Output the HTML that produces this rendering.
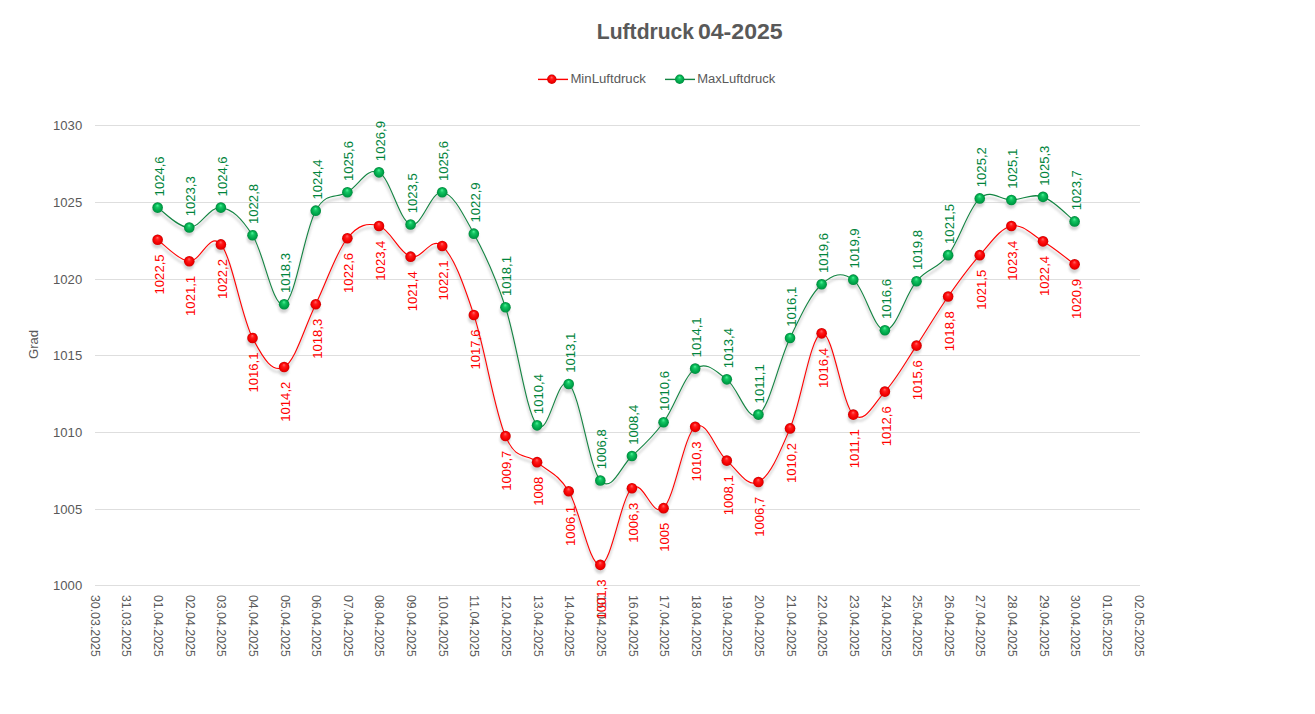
<!DOCTYPE html><html><head><meta charset="utf-8"><title>Luftdruck 04-2025</title><style>html,body{margin:0;padding:0;background:#fff;}svg{display:block;}text{font-family:"Liberation Sans",sans-serif;}</style></head><body>
<svg width="1315" height="714" viewBox="0 0 1315 714">
<defs>
<radialGradient id="gG" cx="0.5" cy="0.55" r="0.55" fx="0.48" fy="0.27">
<stop offset="0" stop-color="#4ff59a"/><stop offset="0.3" stop-color="#14c462"/><stop offset="0.65" stop-color="#00a64b"/><stop offset="0.88" stop-color="#008f3f"/><stop offset="1" stop-color="#00702f"/></radialGradient>
<radialGradient id="gR" cx="0.5" cy="0.55" r="0.55" fx="0.48" fy="0.27">
<stop offset="0" stop-color="#ff6a6a"/><stop offset="0.3" stop-color="#ff1a1a"/><stop offset="0.65" stop-color="#f40000"/><stop offset="0.88" stop-color="#d40000"/><stop offset="1" stop-color="#a00000"/></radialGradient>
<filter id="sh" x="-20%" y="-20%" width="140%" height="140%"><feGaussianBlur stdDeviation="1.3"/></filter>
</defs>
<rect width="1315" height="714" fill="#fff"/>
<rect x="95" y="125" width="1045" height="1" fill="#dedede"/>
<rect x="95" y="202" width="1045" height="1" fill="#dedede"/>
<rect x="95" y="279" width="1045" height="1" fill="#dedede"/>
<rect x="95" y="355" width="1045" height="1" fill="#dedede"/>
<rect x="95" y="432" width="1045" height="1" fill="#dedede"/>
<rect x="95" y="509" width="1045" height="1" fill="#dedede"/>
<rect x="95" y="585" width="1045" height="1" fill="#dedede"/>
<text x="82.2" y="130.20" font-size="13.10" fill="#595959" text-anchor="end">1030</text>
<text x="82.2" y="206.87" font-size="13.10" fill="#595959" text-anchor="end">1025</text>
<text x="82.2" y="283.53" font-size="13.10" fill="#595959" text-anchor="end">1020</text>
<text x="82.2" y="360.20" font-size="13.10" fill="#595959" text-anchor="end">1015</text>
<text x="82.2" y="436.87" font-size="13.10" fill="#595959" text-anchor="end">1010</text>
<text x="82.2" y="513.53" font-size="13.10" fill="#595959" text-anchor="end">1005</text>
<text x="82.2" y="590.20" font-size="13.10" fill="#595959" text-anchor="end">1000</text>
<text transform="translate(38.3,344.5) rotate(-90)" font-size="13.10" fill="#595959" text-anchor="middle">Grad</text>
<text transform="translate(90.80,594.9) rotate(90)" font-size="13.10" fill="#595959" textLength="62.0" lengthAdjust="spacingAndGlyphs">30.03.2025</text>
<text transform="translate(122.43,594.9) rotate(90)" font-size="13.10" fill="#595959" textLength="62.0" lengthAdjust="spacingAndGlyphs">31.03.2025</text>
<text transform="translate(154.06,594.9) rotate(90)" font-size="13.10" fill="#595959" textLength="62.0" lengthAdjust="spacingAndGlyphs">01.04.2025</text>
<text transform="translate(185.69,594.9) rotate(90)" font-size="13.10" fill="#595959" textLength="62.0" lengthAdjust="spacingAndGlyphs">02.04.2025</text>
<text transform="translate(217.32,594.9) rotate(90)" font-size="13.10" fill="#595959" textLength="62.0" lengthAdjust="spacingAndGlyphs">03.04.2025</text>
<text transform="translate(248.95,594.9) rotate(90)" font-size="13.10" fill="#595959" textLength="62.0" lengthAdjust="spacingAndGlyphs">04.04.2025</text>
<text transform="translate(280.58,594.9) rotate(90)" font-size="13.10" fill="#595959" textLength="62.0" lengthAdjust="spacingAndGlyphs">05.04.2025</text>
<text transform="translate(312.21,594.9) rotate(90)" font-size="13.10" fill="#595959" textLength="62.0" lengthAdjust="spacingAndGlyphs">06.04.2025</text>
<text transform="translate(343.84,594.9) rotate(90)" font-size="13.10" fill="#595959" textLength="62.0" lengthAdjust="spacingAndGlyphs">07.04.2025</text>
<text transform="translate(375.47,594.9) rotate(90)" font-size="13.10" fill="#595959" textLength="62.0" lengthAdjust="spacingAndGlyphs">08.04.2025</text>
<text transform="translate(407.10,594.9) rotate(90)" font-size="13.10" fill="#595959" textLength="62.0" lengthAdjust="spacingAndGlyphs">09.04.2025</text>
<text transform="translate(438.73,594.9) rotate(90)" font-size="13.10" fill="#595959" textLength="62.0" lengthAdjust="spacingAndGlyphs">10.04.2025</text>
<text transform="translate(470.36,594.9) rotate(90)" font-size="13.10" fill="#595959" textLength="62.0" lengthAdjust="spacingAndGlyphs">11.04.2025</text>
<text transform="translate(501.99,594.9) rotate(90)" font-size="13.10" fill="#595959" textLength="62.0" lengthAdjust="spacingAndGlyphs">12.04.2025</text>
<text transform="translate(533.62,594.9) rotate(90)" font-size="13.10" fill="#595959" textLength="62.0" lengthAdjust="spacingAndGlyphs">13.04.2025</text>
<text transform="translate(565.25,594.9) rotate(90)" font-size="13.10" fill="#595959" textLength="62.0" lengthAdjust="spacingAndGlyphs">14.04.2025</text>
<text transform="translate(596.88,594.9) rotate(90)" font-size="13.10" fill="#595959" textLength="62.0" lengthAdjust="spacingAndGlyphs">15.04.2025</text>
<text transform="translate(628.51,594.9) rotate(90)" font-size="13.10" fill="#595959" textLength="62.0" lengthAdjust="spacingAndGlyphs">16.04.2025</text>
<text transform="translate(660.14,594.9) rotate(90)" font-size="13.10" fill="#595959" textLength="62.0" lengthAdjust="spacingAndGlyphs">17.04.2025</text>
<text transform="translate(691.77,594.9) rotate(90)" font-size="13.10" fill="#595959" textLength="62.0" lengthAdjust="spacingAndGlyphs">18.04.2025</text>
<text transform="translate(723.40,594.9) rotate(90)" font-size="13.10" fill="#595959" textLength="62.0" lengthAdjust="spacingAndGlyphs">19.04.2025</text>
<text transform="translate(755.03,594.9) rotate(90)" font-size="13.10" fill="#595959" textLength="62.0" lengthAdjust="spacingAndGlyphs">20.04.2025</text>
<text transform="translate(786.66,594.9) rotate(90)" font-size="13.10" fill="#595959" textLength="62.0" lengthAdjust="spacingAndGlyphs">21.04.2025</text>
<text transform="translate(818.29,594.9) rotate(90)" font-size="13.10" fill="#595959" textLength="62.0" lengthAdjust="spacingAndGlyphs">22.04.2025</text>
<text transform="translate(849.92,594.9) rotate(90)" font-size="13.10" fill="#595959" textLength="62.0" lengthAdjust="spacingAndGlyphs">23.04.2025</text>
<text transform="translate(881.55,594.9) rotate(90)" font-size="13.10" fill="#595959" textLength="62.0" lengthAdjust="spacingAndGlyphs">24.04.2025</text>
<text transform="translate(913.18,594.9) rotate(90)" font-size="13.10" fill="#595959" textLength="62.0" lengthAdjust="spacingAndGlyphs">25.04.2025</text>
<text transform="translate(944.81,594.9) rotate(90)" font-size="13.10" fill="#595959" textLength="62.0" lengthAdjust="spacingAndGlyphs">26.04.2025</text>
<text transform="translate(976.44,594.9) rotate(90)" font-size="13.10" fill="#595959" textLength="62.0" lengthAdjust="spacingAndGlyphs">27.04.2025</text>
<text transform="translate(1008.07,594.9) rotate(90)" font-size="13.10" fill="#595959" textLength="62.0" lengthAdjust="spacingAndGlyphs">28.04.2025</text>
<text transform="translate(1039.70,594.9) rotate(90)" font-size="13.10" fill="#595959" textLength="62.0" lengthAdjust="spacingAndGlyphs">29.04.2025</text>
<text transform="translate(1071.33,594.9) rotate(90)" font-size="13.10" fill="#595959" textLength="62.0" lengthAdjust="spacingAndGlyphs">30.04.2025</text>
<text transform="translate(1102.96,594.9) rotate(90)" font-size="13.10" fill="#595959" textLength="62.0" lengthAdjust="spacingAndGlyphs">01.05.2025</text>
<text transform="translate(1134.59,594.9) rotate(90)" font-size="13.10" fill="#595959" textLength="62.0" lengthAdjust="spacingAndGlyphs">02.05.2025</text>
<g filter="url(#sh)" opacity="0.6">
<path d="M157.64,239.80 C163.33,243.66 177.88,260.44 189.26,261.27 C200.64,262.10 209.50,230.60 220.88,244.40 C232.26,258.20 241.12,315.85 252.50,337.93 C263.88,360.01 272.74,373.14 284.12,367.07 C295.50,361.00 304.36,327.38 315.74,304.20 C327.12,281.02 335.98,252.34 347.36,238.27 C358.74,224.19 367.60,222.69 378.98,226.00 C390.36,229.31 399.22,253.08 410.60,256.67 C421.98,260.26 430.84,235.45 442.22,245.93 C453.60,256.42 462.46,280.71 473.84,314.93 C485.22,349.16 494.08,409.57 505.46,436.07 C516.84,462.56 525.70,452.20 537.08,462.13 C548.46,472.07 557.32,472.77 568.70,491.27 C580.08,509.76 588.94,565.42 600.32,564.87 C611.70,564.31 620.56,498.41 631.94,488.20 C643.32,477.99 652.18,519.17 663.56,508.13 C674.94,497.09 683.80,435.42 695.18,426.87 C706.56,418.31 715.42,450.66 726.80,460.60 C738.18,470.54 747.04,487.86 758.42,482.07 C769.80,476.27 778.66,455.17 790.04,428.40 C801.42,401.63 810.28,335.82 821.66,333.33 C833.04,330.85 841.90,404.11 853.28,414.60 C864.66,425.09 873.52,404.02 884.90,391.60 C896.28,379.18 905.14,362.71 916.52,345.60 C927.90,328.49 936.76,312.82 948.14,296.53 C959.52,280.25 968.38,267.83 979.76,255.13 C991.14,242.44 1000.00,228.48 1011.38,226.00 C1022.76,223.52 1031.62,234.43 1043.00,241.33 C1054.38,248.23 1068.93,260.19 1074.62,264.33" transform="translate(0,3.5)" fill="none" stroke="#c8c8c8" stroke-width="2.5"/>
<circle cx="157.14" cy="243.30" r="5.3" fill="#b8b8b8"/>
<circle cx="188.76" cy="264.77" r="5.3" fill="#b8b8b8"/>
<circle cx="220.38" cy="247.90" r="5.3" fill="#b8b8b8"/>
<circle cx="252.00" cy="341.43" r="5.3" fill="#b8b8b8"/>
<circle cx="283.62" cy="370.57" r="5.3" fill="#b8b8b8"/>
<circle cx="315.24" cy="307.70" r="5.3" fill="#b8b8b8"/>
<circle cx="346.86" cy="241.77" r="5.3" fill="#b8b8b8"/>
<circle cx="378.48" cy="229.50" r="5.3" fill="#b8b8b8"/>
<circle cx="410.10" cy="260.17" r="5.3" fill="#b8b8b8"/>
<circle cx="441.72" cy="249.43" r="5.3" fill="#b8b8b8"/>
<circle cx="473.34" cy="318.43" r="5.3" fill="#b8b8b8"/>
<circle cx="504.96" cy="439.57" r="5.3" fill="#b8b8b8"/>
<circle cx="536.58" cy="465.63" r="5.3" fill="#b8b8b8"/>
<circle cx="568.20" cy="494.77" r="5.3" fill="#b8b8b8"/>
<circle cx="599.82" cy="568.37" r="5.3" fill="#b8b8b8"/>
<circle cx="631.44" cy="491.70" r="5.3" fill="#b8b8b8"/>
<circle cx="663.06" cy="511.63" r="5.3" fill="#b8b8b8"/>
<circle cx="694.68" cy="430.37" r="5.3" fill="#b8b8b8"/>
<circle cx="726.30" cy="464.10" r="5.3" fill="#b8b8b8"/>
<circle cx="757.92" cy="485.57" r="5.3" fill="#b8b8b8"/>
<circle cx="789.54" cy="431.90" r="5.3" fill="#b8b8b8"/>
<circle cx="821.16" cy="336.83" r="5.3" fill="#b8b8b8"/>
<circle cx="852.78" cy="418.10" r="5.3" fill="#b8b8b8"/>
<circle cx="884.40" cy="395.10" r="5.3" fill="#b8b8b8"/>
<circle cx="916.02" cy="349.10" r="5.3" fill="#b8b8b8"/>
<circle cx="947.64" cy="300.03" r="5.3" fill="#b8b8b8"/>
<circle cx="979.26" cy="258.63" r="5.3" fill="#b8b8b8"/>
<circle cx="1010.88" cy="229.50" r="5.3" fill="#b8b8b8"/>
<circle cx="1042.50" cy="244.83" r="5.3" fill="#b8b8b8"/>
<circle cx="1074.12" cy="267.83" r="5.3" fill="#b8b8b8"/>
<path d="M157.64,207.60 C163.33,211.19 177.88,227.53 189.26,227.53 C200.64,227.53 209.50,206.22 220.88,207.60 C232.26,208.98 241.12,217.81 252.50,235.20 C263.88,252.59 272.74,308.62 284.12,304.20 C295.50,299.78 304.36,230.82 315.74,210.67 C327.12,190.52 335.98,199.17 347.36,192.27 C358.74,185.37 367.60,166.54 378.98,172.33 C390.36,178.13 399.22,220.88 410.60,224.47 C421.98,228.06 430.84,190.61 442.22,192.27 C453.60,193.92 462.46,212.97 473.84,233.67 C485.22,254.37 494.08,272.77 505.46,307.27 C516.84,341.77 525.70,411.53 537.08,425.33 C548.46,439.13 557.32,374.00 568.70,383.93 C580.08,393.87 588.94,467.56 600.32,480.53 C611.70,493.51 620.56,466.49 631.94,456.00 C643.32,445.51 652.18,438.00 663.56,422.27 C674.94,406.54 683.80,376.33 695.18,368.60 C706.56,360.87 715.42,371.05 726.80,379.33 C738.18,387.61 747.04,422.05 758.42,414.60 C769.80,407.15 778.66,361.39 790.04,337.93 C801.42,314.47 810.28,294.76 821.66,284.27 C833.04,273.78 841.90,271.39 853.28,279.67 C864.66,287.95 873.52,329.99 884.90,330.27 C896.28,330.54 905.14,294.72 916.52,281.20 C927.90,267.68 936.76,270.04 948.14,255.13 C959.52,240.23 968.38,208.34 979.76,198.40 C991.14,188.46 1000.00,200.21 1011.38,199.93 C1022.76,199.66 1031.62,193.00 1043.00,196.87 C1054.38,200.73 1068.93,216.98 1074.62,221.40" transform="translate(0,3.5)" fill="none" stroke="#c8c8c8" stroke-width="2.5"/>
<circle cx="157.14" cy="211.10" r="5.3" fill="#b8b8b8"/>
<circle cx="188.76" cy="231.03" r="5.3" fill="#b8b8b8"/>
<circle cx="220.38" cy="211.10" r="5.3" fill="#b8b8b8"/>
<circle cx="252.00" cy="238.70" r="5.3" fill="#b8b8b8"/>
<circle cx="283.62" cy="307.70" r="5.3" fill="#b8b8b8"/>
<circle cx="315.24" cy="214.17" r="5.3" fill="#b8b8b8"/>
<circle cx="346.86" cy="195.77" r="5.3" fill="#b8b8b8"/>
<circle cx="378.48" cy="175.83" r="5.3" fill="#b8b8b8"/>
<circle cx="410.10" cy="227.97" r="5.3" fill="#b8b8b8"/>
<circle cx="441.72" cy="195.77" r="5.3" fill="#b8b8b8"/>
<circle cx="473.34" cy="237.17" r="5.3" fill="#b8b8b8"/>
<circle cx="504.96" cy="310.77" r="5.3" fill="#b8b8b8"/>
<circle cx="536.58" cy="428.83" r="5.3" fill="#b8b8b8"/>
<circle cx="568.20" cy="387.43" r="5.3" fill="#b8b8b8"/>
<circle cx="599.82" cy="484.03" r="5.3" fill="#b8b8b8"/>
<circle cx="631.44" cy="459.50" r="5.3" fill="#b8b8b8"/>
<circle cx="663.06" cy="425.77" r="5.3" fill="#b8b8b8"/>
<circle cx="694.68" cy="372.10" r="5.3" fill="#b8b8b8"/>
<circle cx="726.30" cy="382.83" r="5.3" fill="#b8b8b8"/>
<circle cx="757.92" cy="418.10" r="5.3" fill="#b8b8b8"/>
<circle cx="789.54" cy="341.43" r="5.3" fill="#b8b8b8"/>
<circle cx="821.16" cy="287.77" r="5.3" fill="#b8b8b8"/>
<circle cx="852.78" cy="283.17" r="5.3" fill="#b8b8b8"/>
<circle cx="884.40" cy="333.77" r="5.3" fill="#b8b8b8"/>
<circle cx="916.02" cy="284.70" r="5.3" fill="#b8b8b8"/>
<circle cx="947.64" cy="258.63" r="5.3" fill="#b8b8b8"/>
<circle cx="979.26" cy="201.90" r="5.3" fill="#b8b8b8"/>
<circle cx="1010.88" cy="203.43" r="5.3" fill="#b8b8b8"/>
<circle cx="1042.50" cy="200.37" r="5.3" fill="#b8b8b8"/>
<circle cx="1074.12" cy="224.90" r="5.3" fill="#b8b8b8"/>
</g>
<path d="M157.64,239.80 C163.33,243.66 177.88,260.44 189.26,261.27 C200.64,262.10 209.50,230.60 220.88,244.40 C232.26,258.20 241.12,315.85 252.50,337.93 C263.88,360.01 272.74,373.14 284.12,367.07 C295.50,361.00 304.36,327.38 315.74,304.20 C327.12,281.02 335.98,252.34 347.36,238.27 C358.74,224.19 367.60,222.69 378.98,226.00 C390.36,229.31 399.22,253.08 410.60,256.67 C421.98,260.26 430.84,235.45 442.22,245.93 C453.60,256.42 462.46,280.71 473.84,314.93 C485.22,349.16 494.08,409.57 505.46,436.07 C516.84,462.56 525.70,452.20 537.08,462.13 C548.46,472.07 557.32,472.77 568.70,491.27 C580.08,509.76 588.94,565.42 600.32,564.87 C611.70,564.31 620.56,498.41 631.94,488.20 C643.32,477.99 652.18,519.17 663.56,508.13 C674.94,497.09 683.80,435.42 695.18,426.87 C706.56,418.31 715.42,450.66 726.80,460.60 C738.18,470.54 747.04,487.86 758.42,482.07 C769.80,476.27 778.66,455.17 790.04,428.40 C801.42,401.63 810.28,335.82 821.66,333.33 C833.04,330.85 841.90,404.11 853.28,414.60 C864.66,425.09 873.52,404.02 884.90,391.60 C896.28,379.18 905.14,362.71 916.52,345.60 C927.90,328.49 936.76,312.82 948.14,296.53 C959.52,280.25 968.38,267.83 979.76,255.13 C991.14,242.44 1000.00,228.48 1011.38,226.00 C1022.76,223.52 1031.62,234.43 1043.00,241.33 C1054.38,248.23 1068.93,260.19 1074.62,264.33" fill="none" stroke="#ff0000" stroke-width="1.1"/>
<circle cx="157.64" cy="239.80" r="5.3" fill="url(#gR)"/>
<circle cx="189.26" cy="261.27" r="5.3" fill="url(#gR)"/>
<circle cx="220.88" cy="244.40" r="5.3" fill="url(#gR)"/>
<circle cx="252.50" cy="337.93" r="5.3" fill="url(#gR)"/>
<circle cx="284.12" cy="367.07" r="5.3" fill="url(#gR)"/>
<circle cx="315.74" cy="304.20" r="5.3" fill="url(#gR)"/>
<circle cx="347.36" cy="238.27" r="5.3" fill="url(#gR)"/>
<circle cx="378.98" cy="226.00" r="5.3" fill="url(#gR)"/>
<circle cx="410.60" cy="256.67" r="5.3" fill="url(#gR)"/>
<circle cx="442.22" cy="245.93" r="5.3" fill="url(#gR)"/>
<circle cx="473.84" cy="314.93" r="5.3" fill="url(#gR)"/>
<circle cx="505.46" cy="436.07" r="5.3" fill="url(#gR)"/>
<circle cx="537.08" cy="462.13" r="5.3" fill="url(#gR)"/>
<circle cx="568.70" cy="491.27" r="5.3" fill="url(#gR)"/>
<circle cx="600.32" cy="564.87" r="5.3" fill="url(#gR)"/>
<circle cx="631.94" cy="488.20" r="5.3" fill="url(#gR)"/>
<circle cx="663.56" cy="508.13" r="5.3" fill="url(#gR)"/>
<circle cx="695.18" cy="426.87" r="5.3" fill="url(#gR)"/>
<circle cx="726.80" cy="460.60" r="5.3" fill="url(#gR)"/>
<circle cx="758.42" cy="482.07" r="5.3" fill="url(#gR)"/>
<circle cx="790.04" cy="428.40" r="5.3" fill="url(#gR)"/>
<circle cx="821.66" cy="333.33" r="5.3" fill="url(#gR)"/>
<circle cx="853.28" cy="414.60" r="5.3" fill="url(#gR)"/>
<circle cx="884.90" cy="391.60" r="5.3" fill="url(#gR)"/>
<circle cx="916.52" cy="345.60" r="5.3" fill="url(#gR)"/>
<circle cx="948.14" cy="296.53" r="5.3" fill="url(#gR)"/>
<circle cx="979.76" cy="255.13" r="5.3" fill="url(#gR)"/>
<circle cx="1011.38" cy="226.00" r="5.3" fill="url(#gR)"/>
<circle cx="1043.00" cy="241.33" r="5.3" fill="url(#gR)"/>
<circle cx="1074.62" cy="264.33" r="5.3" fill="url(#gR)"/>
<path d="M157.64,207.60 C163.33,211.19 177.88,227.53 189.26,227.53 C200.64,227.53 209.50,206.22 220.88,207.60 C232.26,208.98 241.12,217.81 252.50,235.20 C263.88,252.59 272.74,308.62 284.12,304.20 C295.50,299.78 304.36,230.82 315.74,210.67 C327.12,190.52 335.98,199.17 347.36,192.27 C358.74,185.37 367.60,166.54 378.98,172.33 C390.36,178.13 399.22,220.88 410.60,224.47 C421.98,228.06 430.84,190.61 442.22,192.27 C453.60,193.92 462.46,212.97 473.84,233.67 C485.22,254.37 494.08,272.77 505.46,307.27 C516.84,341.77 525.70,411.53 537.08,425.33 C548.46,439.13 557.32,374.00 568.70,383.93 C580.08,393.87 588.94,467.56 600.32,480.53 C611.70,493.51 620.56,466.49 631.94,456.00 C643.32,445.51 652.18,438.00 663.56,422.27 C674.94,406.54 683.80,376.33 695.18,368.60 C706.56,360.87 715.42,371.05 726.80,379.33 C738.18,387.61 747.04,422.05 758.42,414.60 C769.80,407.15 778.66,361.39 790.04,337.93 C801.42,314.47 810.28,294.76 821.66,284.27 C833.04,273.78 841.90,271.39 853.28,279.67 C864.66,287.95 873.52,329.99 884.90,330.27 C896.28,330.54 905.14,294.72 916.52,281.20 C927.90,267.68 936.76,270.04 948.14,255.13 C959.52,240.23 968.38,208.34 979.76,198.40 C991.14,188.46 1000.00,200.21 1011.38,199.93 C1022.76,199.66 1031.62,193.00 1043.00,196.87 C1054.38,200.73 1068.93,216.98 1074.62,221.40" fill="none" stroke="#138442" stroke-width="1.1"/>
<circle cx="157.64" cy="207.60" r="5.3" fill="url(#gG)"/>
<circle cx="189.26" cy="227.53" r="5.3" fill="url(#gG)"/>
<circle cx="220.88" cy="207.60" r="5.3" fill="url(#gG)"/>
<circle cx="252.50" cy="235.20" r="5.3" fill="url(#gG)"/>
<circle cx="284.12" cy="304.20" r="5.3" fill="url(#gG)"/>
<circle cx="315.74" cy="210.67" r="5.3" fill="url(#gG)"/>
<circle cx="347.36" cy="192.27" r="5.3" fill="url(#gG)"/>
<circle cx="378.98" cy="172.33" r="5.3" fill="url(#gG)"/>
<circle cx="410.60" cy="224.47" r="5.3" fill="url(#gG)"/>
<circle cx="442.22" cy="192.27" r="5.3" fill="url(#gG)"/>
<circle cx="473.84" cy="233.67" r="5.3" fill="url(#gG)"/>
<circle cx="505.46" cy="307.27" r="5.3" fill="url(#gG)"/>
<circle cx="537.08" cy="425.33" r="5.3" fill="url(#gG)"/>
<circle cx="568.70" cy="383.93" r="5.3" fill="url(#gG)"/>
<circle cx="600.32" cy="480.53" r="5.3" fill="url(#gG)"/>
<circle cx="631.94" cy="456.00" r="5.3" fill="url(#gG)"/>
<circle cx="663.56" cy="422.27" r="5.3" fill="url(#gG)"/>
<circle cx="695.18" cy="368.60" r="5.3" fill="url(#gG)"/>
<circle cx="726.80" cy="379.33" r="5.3" fill="url(#gG)"/>
<circle cx="758.42" cy="414.60" r="5.3" fill="url(#gG)"/>
<circle cx="790.04" cy="337.93" r="5.3" fill="url(#gG)"/>
<circle cx="821.66" cy="284.27" r="5.3" fill="url(#gG)"/>
<circle cx="853.28" cy="279.67" r="5.3" fill="url(#gG)"/>
<circle cx="884.90" cy="330.27" r="5.3" fill="url(#gG)"/>
<circle cx="916.52" cy="281.20" r="5.3" fill="url(#gG)"/>
<circle cx="948.14" cy="255.13" r="5.3" fill="url(#gG)"/>
<circle cx="979.76" cy="198.40" r="5.3" fill="url(#gG)"/>
<circle cx="1011.38" cy="199.93" r="5.3" fill="url(#gG)"/>
<circle cx="1043.00" cy="196.87" r="5.3" fill="url(#gG)"/>
<circle cx="1074.62" cy="221.40" r="5.3" fill="url(#gG)"/>
<text transform="translate(163.54,254.40) rotate(-90)" font-size="13.10" fill="#ff0000" text-anchor="end">1022,5</text>
<text transform="translate(195.16,275.87) rotate(-90)" font-size="13.10" fill="#ff0000" text-anchor="end">1021,1</text>
<text transform="translate(226.78,259.00) rotate(-90)" font-size="13.10" fill="#ff0000" text-anchor="end">1022,2</text>
<text transform="translate(258.40,352.53) rotate(-90)" font-size="13.10" fill="#ff0000" text-anchor="end">1016,1</text>
<text transform="translate(290.02,381.67) rotate(-90)" font-size="13.10" fill="#ff0000" text-anchor="end">1014,2</text>
<text transform="translate(321.64,318.80) rotate(-90)" font-size="13.10" fill="#ff0000" text-anchor="end">1018,3</text>
<text transform="translate(353.26,252.87) rotate(-90)" font-size="13.10" fill="#ff0000" text-anchor="end">1022,6</text>
<text transform="translate(384.88,240.60) rotate(-90)" font-size="13.10" fill="#ff0000" text-anchor="end">1023,4</text>
<text transform="translate(416.50,271.27) rotate(-90)" font-size="13.10" fill="#ff0000" text-anchor="end">1021,4</text>
<text transform="translate(448.12,260.53) rotate(-90)" font-size="13.10" fill="#ff0000" text-anchor="end">1022,1</text>
<text transform="translate(479.74,329.53) rotate(-90)" font-size="13.10" fill="#ff0000" text-anchor="end">1017,6</text>
<text transform="translate(511.36,450.67) rotate(-90)" font-size="13.10" fill="#ff0000" text-anchor="end">1009,7</text>
<text transform="translate(542.98,476.73) rotate(-90)" font-size="13.10" fill="#ff0000" text-anchor="end">1008</text>
<text transform="translate(574.60,505.87) rotate(-90)" font-size="13.10" fill="#ff0000" text-anchor="end">1006,1</text>
<text transform="translate(606.22,579.47) rotate(-90)" font-size="13.10" fill="#ff0000" text-anchor="end">1001,3</text>
<text transform="translate(637.84,502.80) rotate(-90)" font-size="13.10" fill="#ff0000" text-anchor="end">1006,3</text>
<text transform="translate(669.46,522.73) rotate(-90)" font-size="13.10" fill="#ff0000" text-anchor="end">1005</text>
<text transform="translate(701.08,441.47) rotate(-90)" font-size="13.10" fill="#ff0000" text-anchor="end">1010,3</text>
<text transform="translate(732.70,475.20) rotate(-90)" font-size="13.10" fill="#ff0000" text-anchor="end">1008,1</text>
<text transform="translate(764.32,496.67) rotate(-90)" font-size="13.10" fill="#ff0000" text-anchor="end">1006,7</text>
<text transform="translate(795.94,443.00) rotate(-90)" font-size="13.10" fill="#ff0000" text-anchor="end">1010,2</text>
<text transform="translate(827.56,347.93) rotate(-90)" font-size="13.10" fill="#ff0000" text-anchor="end">1016,4</text>
<text transform="translate(859.18,429.20) rotate(-90)" font-size="13.10" fill="#ff0000" text-anchor="end">1011,1</text>
<text transform="translate(890.80,406.20) rotate(-90)" font-size="13.10" fill="#ff0000" text-anchor="end">1012,6</text>
<text transform="translate(922.42,360.20) rotate(-90)" font-size="13.10" fill="#ff0000" text-anchor="end">1015,6</text>
<text transform="translate(954.04,311.13) rotate(-90)" font-size="13.10" fill="#ff0000" text-anchor="end">1018,8</text>
<text transform="translate(985.66,269.73) rotate(-90)" font-size="13.10" fill="#ff0000" text-anchor="end">1021,5</text>
<text transform="translate(1017.28,240.60) rotate(-90)" font-size="13.10" fill="#ff0000" text-anchor="end">1023,4</text>
<text transform="translate(1048.90,255.93) rotate(-90)" font-size="13.10" fill="#ff0000" text-anchor="end">1022,4</text>
<text transform="translate(1080.52,278.93) rotate(-90)" font-size="13.10" fill="#ff0000" text-anchor="end">1020,9</text>
<text transform="translate(163.54,196.40) rotate(-90)" font-size="13.10" fill="#00843c">1024,6</text>
<text transform="translate(195.16,216.33) rotate(-90)" font-size="13.10" fill="#00843c">1023,3</text>
<text transform="translate(226.78,196.40) rotate(-90)" font-size="13.10" fill="#00843c">1024,6</text>
<text transform="translate(258.40,224.00) rotate(-90)" font-size="13.10" fill="#00843c">1022,8</text>
<text transform="translate(290.02,293.00) rotate(-90)" font-size="13.10" fill="#00843c">1018,3</text>
<text transform="translate(321.64,199.47) rotate(-90)" font-size="13.10" fill="#00843c">1024,4</text>
<text transform="translate(353.26,181.07) rotate(-90)" font-size="13.10" fill="#00843c">1025,6</text>
<text transform="translate(384.88,161.13) rotate(-90)" font-size="13.10" fill="#00843c">1026,9</text>
<text transform="translate(416.50,213.27) rotate(-90)" font-size="13.10" fill="#00843c">1023,5</text>
<text transform="translate(448.12,181.07) rotate(-90)" font-size="13.10" fill="#00843c">1025,6</text>
<text transform="translate(479.74,222.47) rotate(-90)" font-size="13.10" fill="#00843c">1022,9</text>
<text transform="translate(511.36,296.07) rotate(-90)" font-size="13.10" fill="#00843c">1018,1</text>
<text transform="translate(542.98,414.13) rotate(-90)" font-size="13.10" fill="#00843c">1010,4</text>
<text transform="translate(574.60,372.73) rotate(-90)" font-size="13.10" fill="#00843c">1013,1</text>
<text transform="translate(606.22,469.33) rotate(-90)" font-size="13.10" fill="#00843c">1006,8</text>
<text transform="translate(637.84,444.80) rotate(-90)" font-size="13.10" fill="#00843c">1008,4</text>
<text transform="translate(669.46,411.07) rotate(-90)" font-size="13.10" fill="#00843c">1010,6</text>
<text transform="translate(701.08,357.40) rotate(-90)" font-size="13.10" fill="#00843c">1014,1</text>
<text transform="translate(732.70,368.13) rotate(-90)" font-size="13.10" fill="#00843c">1013,4</text>
<text transform="translate(764.32,403.40) rotate(-90)" font-size="13.10" fill="#00843c">1011,1</text>
<text transform="translate(795.94,326.73) rotate(-90)" font-size="13.10" fill="#00843c">1016,1</text>
<text transform="translate(827.56,273.07) rotate(-90)" font-size="13.10" fill="#00843c">1019,6</text>
<text transform="translate(859.18,268.47) rotate(-90)" font-size="13.10" fill="#00843c">1019,9</text>
<text transform="translate(890.80,319.07) rotate(-90)" font-size="13.10" fill="#00843c">1016,6</text>
<text transform="translate(922.42,270.00) rotate(-90)" font-size="13.10" fill="#00843c">1019,8</text>
<text transform="translate(954.04,243.93) rotate(-90)" font-size="13.10" fill="#00843c">1021,5</text>
<text transform="translate(985.66,187.20) rotate(-90)" font-size="13.10" fill="#00843c">1025,2</text>
<text transform="translate(1017.28,188.73) rotate(-90)" font-size="13.10" fill="#00843c">1025,1</text>
<text transform="translate(1048.90,185.67) rotate(-90)" font-size="13.10" fill="#00843c">1025,3</text>
<text transform="translate(1080.52,210.20) rotate(-90)" font-size="13.10" fill="#00843c">1023,7</text>
<text x="596.8" y="38.9" font-size="22" font-weight="bold" fill="#595959" textLength="97.3" lengthAdjust="spacingAndGlyphs">Luftdruck</text>
<text x="697.9" y="38.9" font-size="22" font-weight="bold" fill="#595959" textLength="84.8" lengthAdjust="spacingAndGlyphs">04-2025</text>
<rect x="538" y="78.7" width="30" height="1.4" fill="#ff0000"/>
<circle cx="551.8" cy="79.2" r="4.7" fill="url(#gR)"/>
<text x="570.4" y="82.9" font-size="12" fill="#595959" textLength="75.5" lengthAdjust="spacingAndGlyphs">MinLuftdruck</text>
<rect x="665" y="78.7" width="30" height="1.4" fill="#138442"/>
<circle cx="679.7" cy="79.2" r="4.7" fill="url(#gG)"/>
<text x="697.2" y="82.9" font-size="12" fill="#595959" textLength="78" lengthAdjust="spacingAndGlyphs">MaxLuftdruck</text>
</svg></body></html>
